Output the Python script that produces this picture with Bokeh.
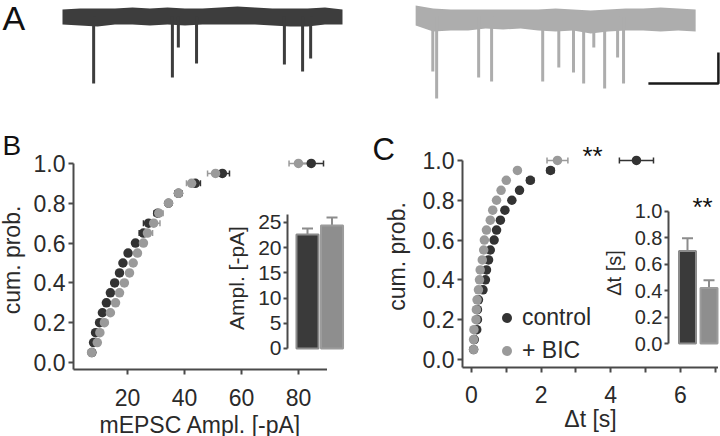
from bokeh.plotting import figure
from bokeh.models import (ColumnDataSource, Whisker, TeeHead, FixedTicker,
                          NumeralTickFormatter, Legend, LegendItem, Range1d, Label)
from bokeh.embed import file_html
from bokeh.resources import INLINE

# ---------------- data ----------------
# Panel A: example traces (time in s, current in pA relative to baseline)
trace_t = [0.0, 0.5, 1.0, 1.5, 2.0, 2.5, 3.0, 3.5, 4.0, 4.5, 5.0, 5.5, 6.0, 6.5, 7.0, 7.5, 8.0]
ctrl_noise_hi = [4.5, 5.2, 5.2, 5.2, 5.8, 5.2, 5.8, 5.2, 5.2, 5.8, 6.5, 5.8, 5.2, 5.2, 5.2, 5.8, 4.5]
ctrl_noise_lo = [-5.2, -5.8, -6.5, -5.2, -5.2, -5.8, -5.2, -5.8, -5.2, -5.2, -5.2, -5.2, -5.8, -6.5, -6.5, -5.2, -5.2]
ctrl_event_t = [0.89, 3.14, 3.31, 3.83, 6.34, 6.86, 7.09]
ctrl_event_amp = [43.2, 39.4, 20.0, 30.3, 31.0, 35.5, 27.1]
bic_noise_hi = [7.1, 5.2, 4.5, 4.5, 4.5, 4.5, 4.5, 4.5, 5.2, 4.5, 3.9, 4.5, 5.2, 5.2, 5.8, 5.2, 4.5]
bic_noise_lo = [-5.8, -9.7, -9.0, -9.0, -7.7, -8.4, -7.7, -9.0, -9.7, -9.0, -11.0, -9.7, -9.0, -9.0, -9.7, -9.0, -9.7]
bic_event_t = [0.49, 0.60, 1.80, 2.17, 3.63, 4.09, 4.51, 4.80, 5.09, 5.40, 5.77, 5.94]
bic_event_amp = [35.5, 52.9, 39.4, 41.9, 41.9, 32.9, 36.1, 43.2, 20.0, 46.5, 26.5, 43.2]
scale_bar_s = 2.0
scale_bar_pA = 20.0

# Panels B, C: cumulative probabilities
cum_prob = [0.05, 0.10, 0.15, 0.20, 0.25, 0.30, 0.35, 0.40, 0.45, 0.50,
            0.55, 0.60, 0.65, 0.70, 0.75, 0.80, 0.85, 0.90, 0.95, 1.00]
ampl_ctrl = [7.5, 8.1, 8.8, 10.2, 11.2, 12.6, 14.0, 15.5, 17.2, 18.4,
             20.2, 22.8, 25.6, 27.4, 30.6, 34.4, 37.9, 43.8, 53.3, 84.5]
ampl_ctrl_sem = [0.3, 0.3, 0.3, 0.3, 0.3, 0.3, 0.3, 0.3, 0.3, 0.4,
                 0.5, 0.8, 1.5, 1.8, 1.3, 1.0, 1.2, 1.8, 2.5, 4.3]
ampl_bic = [7.4, 9.4, 10.3, 11.9, 14.0, 15.8, 17.2, 18.9, 20.7, 22.0,
            23.5, 25.6, 27.0, 29.2, 31.0, 34.4, 37.9, 42.5, 50.9, 80.0]
ampl_bic_sem = [0.3, 0.3, 0.3, 0.3, 0.3, 0.3, 0.3, 0.3, 0.3, 0.4,
                0.5, 0.8, 1.8, 2.2, 1.5, 1.0, 1.2, 1.8, 2.8, 3.3]
ivi_ctrl = [0.06, 0.08, 0.15, 0.17, 0.17, 0.20, 0.33, 0.40, 0.43, 0.49,
            0.54, 0.65, 0.72, 0.83, 0.96, 1.16, 1.38, 1.69, 2.27, 4.74]
ivi_ctrl_sem = [0.01, 0.01, 0.01, 0.01, 0.02, 0.02, 0.02, 0.02, 0.02, 0.02,
                0.02, 0.03, 0.03, 0.03, 0.04, 0.04, 0.05, 0.10, 0.10, 0.49]
ivi_bic = [0.06, 0.06, 0.07, 0.13, 0.14, 0.16, 0.20, 0.23, 0.25, 0.31,
           0.35, 0.37, 0.43, 0.54, 0.61, 0.72, 0.85, 1.00, 1.32, 2.47]
ivi_bic_sem = [0.01, 0.01, 0.01, 0.01, 0.01, 0.02, 0.02, 0.02, 0.02, 0.02,
               0.02, 0.02, 0.03, 0.03, 0.03, 0.03, 0.04, 0.04, 0.05, 0.30]

# Insets: means +- SEM
groups = ["control", "+ BIC"]
ampl_mean = [22.6, 24.4]
ampl_mean_sem = [1.2, 1.6]
ivi_mean = [0.70, 0.42]
ivi_mean_sem = [0.098, 0.06]

# ---------------- style ----------------
FONT = "Liberation Sans"
DARK = "#333333"
GREY = "#9a9a9a"
TRACE_DARK = "#3d3d3d"
TRACE_GREY = "#adadad"
BAR_DARK = "#3a3a3a"
BAR_GREY = "#8e8e8e"
BAR_EDGE = "#8c8c8c"
AXIS = "#4a4a4a"
TEXT = "#2a2a2a"


def make_fig(xr, yr, frame_left, frame_top, fw, fh, bl=0, bt=0, bb=0, xaxis=True, yaxis=True):
    p = figure(frame_width=fw, frame_height=fh, x_range=xr, y_range=yr,
               output_backend="svg", toolbar_location=None,
               min_border_left=bl, min_border_right=0,
               min_border_top=bt, min_border_bottom=bb,
               x_axis_location="below" if xaxis else None,
               y_axis_location="left" if yaxis else None)
    p.background_fill_color = None
    p.border_fill_color = None
    p.outline_line_color = None
    p.grid.visible = False
    p.styles = {"position": "absolute", "left": f"{frame_left - bl}px",
                "top": f"{frame_top - bt}px"}
    return p


def style_axis(ax, size, tick_out=5):
    ax.axis_line_color = AXIS
    ax.axis_line_width = 2
    ax.major_tick_line_color = AXIS
    ax.major_tick_line_width = 2
    ax.major_tick_out = tick_out
    ax.major_tick_in = 0
    ax.minor_tick_line_color = None
    ax.major_label_text_font = FONT
    ax.major_label_text_font_size = f"{size}px"
    ax.major_label_text_color = TEXT
    ax.axis_label_text_font = FONT
    ax.axis_label_text_font_size = f"{size}px"
    ax.axis_label_text_font_style = "normal"
    ax.axis_label_text_color = TEXT


roots = []

# ---------------- overlays with panel letters and significance marks ----------------
pL1 = make_fig(Range1d(0, 360), Range1d(200, 0), 0, 0, 360, 200, xaxis=False, yaxis=False)
for txt, x, y, sz in [("A", 2, 17, 34), ("B", 2, 145, 28)]:
    pL1.add_layout(Label(x=x, y=y, text=txt, text_font=FONT, text_font_size=f"{sz}px",
                         text_color="#111111", text_baseline="middle", text_align="left"))
roots.append(pL1)
pL2 = make_fig(Range1d(360, 720), Range1d(240, 120), 360, 120, 360, 120, xaxis=False, yaxis=False)
pL2.add_layout(Label(x=372, y=149, text="C", text_font=FONT, text_font_size="31px",
                     text_color="#111111", text_baseline="middle", text_align="left"))
for x, y in [(592, 155), (702, 206)]:
    pL2.add_layout(Label(x=x, y=y, text="**", text_font=FONT, text_font_size="26px",
                         text_color="#111111", text_baseline="alphabetic", text_align="center"))
roots.append(pL2)

# ---------------- Panel A ----------------
pA = make_fig(Range1d(-0.057, 18.8), Range1d(-59.35, 10.32), 60, 0, 660, 108, xaxis=False, yaxis=False)
BIC_T0 = 10.09
pA.varea(x=trace_t, y1=ctrl_noise_lo, y2=ctrl_noise_hi, fill_color=TRACE_DARK)
pA.segment(x0=ctrl_event_t, y0=[0] * len(ctrl_event_t), x1=ctrl_event_t,
           y1=[-a for a in ctrl_event_amp], line_color=TRACE_DARK, line_width=3)
bic_t = [t + BIC_T0 for t in trace_t]
bic_ev = [t + BIC_T0 for t in bic_event_t]
pA.varea(x=bic_t, y1=bic_noise_lo, y2=bic_noise_hi, fill_color=TRACE_GREY)
pA.segment(x0=bic_ev, y0=[0] * len(bic_ev), x1=bic_ev,
           y1=[-a for a in bic_event_amp], line_color=TRACE_GREY, line_width=3)
SB_X, SB_Y = 18.74, -43.2
pA.line(x=[SB_X - scale_bar_s, SB_X, SB_X], y=[SB_Y, SB_Y, SB_Y + scale_bar_pA],
        line_color="#1a1a1a", line_width=2.5)
roots.append(pA)


def cum_panel(p, xc, xc_sem, xb, xb_sem):
    src_c = ColumnDataSource(dict(y=cum_prob, x=xc, lo=[a - s for a, s in zip(xc, xc_sem)],
                                  hi=[a + s for a, s in zip(xc, xc_sem)]))
    src_b = ColumnDataSource(dict(y=cum_prob, x=xb, lo=[a - s for a, s in zip(xb, xb_sem)],
                                  hi=[a + s for a, s in zip(xb, xb_sem)]))
    for src, col in [(src_c, DARK), (src_b, GREY)]:
        p.add_layout(Whisker(source=src, base="y", lower="lo", upper="hi", dimension="width",
                             line_color=col, line_width=1.5,
                             lower_head=TeeHead(size=6, line_color=col, line_width=1.5),
                             upper_head=TeeHead(size=6, line_color=col, line_width=1.5)))
    rc = p.scatter("x", "y", source=src_c, size=9.5, fill_color=DARK, line_color=None)
    rb = p.scatter("x", "y", source=src_b, size=9.5, fill_color=GREY, line_color=None)
    p.yaxis.ticker = FixedTicker(ticks=[0, 0.2, 0.4, 0.6, 0.8, 1.0])
    p.yaxis.formatter = NumeralTickFormatter(format="0.0")
    p.yaxis.axis_label = "cum. prob."
    style_axis(p.xaxis[0], 23)
    style_axis(p.yaxis[0], 23)
    p.yaxis.major_label_standoff = 3
    return rc, rb


# ---------------- Panel B ----------------
pB = make_fig(Range1d(1.05, 90.2), Range1d(-0.035, 1.065), 73, 150, 254, 219, bl=90, bt=5, bb=60)
cum_panel(pB, ampl_ctrl, ampl_ctrl_sem, ampl_bic, ampl_bic_sem)
pB.yaxis.bounds = (-0.035, 1.0)
pB.xaxis.ticker = FixedTicker(ticks=[20, 40, 60, 80])
pB.xaxis.axis_label = "mEPSC Ampl. [-pA]"
pB.xaxis.major_label_standoff = 14
pB.xaxis.axis_label_standoff = 3
pB.yaxis.axis_label_standoff = 6
roots.append(pB)

# ---------------- Panel C ----------------
pC = make_fig(Range1d(-0.2586, 7.098), Range1d(-0.0402, 1.075), 462, 145, 256, 222, bl=90, bt=5, bb=60)
rc, rb = cum_panel(pC, ivi_ctrl, ivi_ctrl_sem, ivi_bic, ivi_bic_sem)
pC.yaxis.bounds = (-0.0402, 1.0)
pC.xaxis.ticker = FixedTicker(ticks=[0, 2, 4, 6], minor_ticks=[1, 3, 5, 7])
pC.xaxis.minor_tick_line_color = AXIS
pC.xaxis.minor_tick_line_width = 2
pC.xaxis.minor_tick_out = 5
pC.xaxis.minor_tick_in = 0
pC.xaxis.axis_label = "\u0394t [s]"
pC.xaxis.major_label_standoff = 13
pC.xaxis.axis_label_standoff = 0
pC.yaxis.axis_label_standoff = 10
legend = Legend(items=[LegendItem(label=groups[0], renderers=[rc]),
                       LegendItem(label=groups[1], renderers=[rb])],
                location=(32, 3), glyph_width=25, glyph_height=25, label_height=25,
                label_standoff=3, spacing=6, padding=0, margin=0,
                border_line_color=None, background_fill_alpha=0,
                label_text_font=FONT, label_text_font_size="23px", label_text_color=TEXT)
pC.add_layout(legend)
roots.append(pC)


def bar_inset(p, means, sems, width, size, ticks, fmt, label, top_bound):
    xs = [i + 1 for i in range(len(means))]
    p.vbar(x=xs, top=means, width=width, fill_color=[BAR_DARK, BAR_GREY],
           line_color=[BAR_EDGE, "#9c9c9c"], line_width=2)
    src = ColumnDataSource(dict(x=xs, lo=means, hi=[m + s for m, s in zip(means, sems)]))
    p.add_layout(Whisker(source=src, base="x", lower="lo", upper="hi", dimension="height",
                         line_color=BAR_EDGE, line_width=2, lower_head=None,
                         upper_head=TeeHead(size=11, line_color=BAR_EDGE, line_width=2)))
    ax = p.yaxis[0]
    style_axis(ax, size, tick_out=4)
    ax.ticker = FixedTicker(ticks=ticks)
    if fmt:
        ax.formatter = NumeralTickFormatter(format=fmt)
    ax.bounds = (0, top_bound)
    ax.major_label_standoff = 2
    ax.axis_label = label
    ax.axis_label_standoff = 7


# ---------------- Inset B ----------------
# (placement compensated by the offset observed in the rendered page)
pBi = make_fig(Range1d(0.1837, 2.673), Range1d(-0.4, 28.37), 287, 205, 61, 145,
               bl=70, bt=12, bb=12, xaxis=False)
bar_inset(pBi, ampl_mean, ampl_mean_sem, 0.9, 21, [0, 5, 10, 15, 20, 25], None, "Ampl. [-pA]", 26.6)
roots.append(pBi)

# ---------------- Inset C ----------------
pCi = make_fig(Range1d(0.1163, 2.488), Range1d(-0.015, 1.083), 668, 200, 51, 145,
               bl=70, bt=12, bb=12, xaxis=False)
bar_inset(pCi, ivi_mean, ivi_mean_sem, 0.79, 20, [0, 0.2, 0.4, 0.6, 0.8, 1.0], "0.0", "\u0394t [s]", 1.0)
roots.append(pCi)

with open("out.html", "w") as f:
    f.write(file_html(roots, INLINE))
